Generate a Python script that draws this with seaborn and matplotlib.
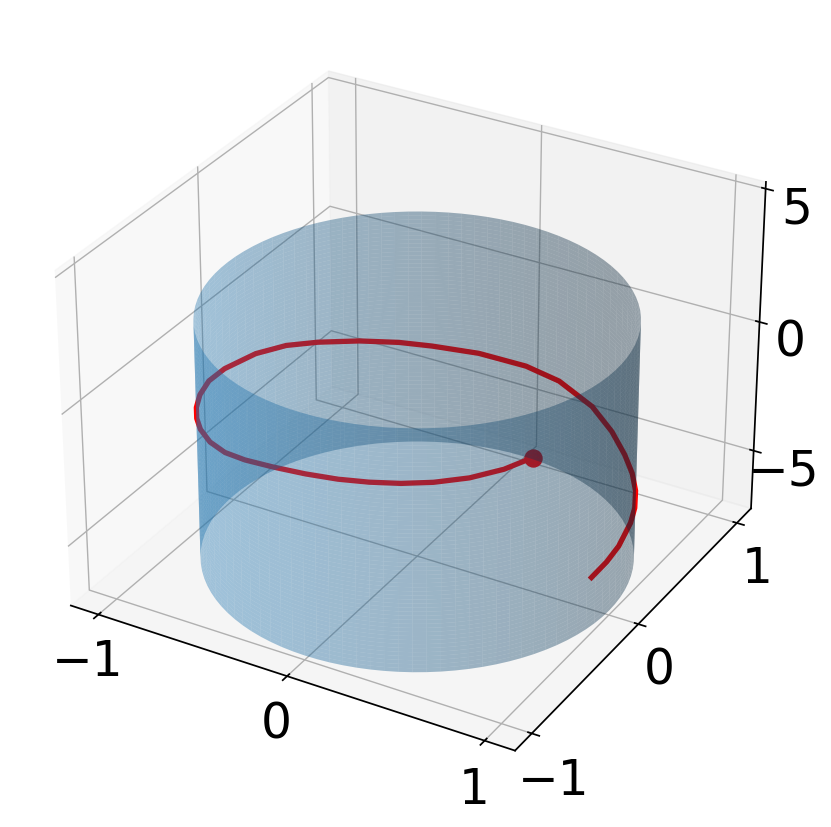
import numpy as np
import matplotlib
matplotlib.use("Agg")
import matplotlib.pyplot as plt
import seaborn as sns

# Curve: angle on the cylinder (degrees) and height
curve_theta = [-30, -38, -47, -56, -64, -72, -80, -89, -99, -109, -118, -127, -136, -143, -150, -158,
               -167, -177, -191, -202, -212, -224, -235, -244, -257, -271, -282, -295, -305, -314,
               -322, -330, -338, -345, -355, -362, -369]
curve_z = [0.32, 0.16, 0.05, -0.01, -0.05, -0.09, -0.15, -0.24, -0.41, -0.68, -0.95, -1.16, -1.32, -1.42, -1.52, -1.62,
           -1.73, -1.93, -2.18, -2.40, -2.66, -2.93, -3.13, -3.28, -3.40, -3.50, -3.62, -3.91, -4.25, -4.53,
           -4.66, -4.73, -4.78, -4.83, -4.98, -5.10, -5.24]
cyl_z_limits = [-7.13, 1.96]
x_ticks = [-1, 0, 1]
y_ticks = [-1, 0, 1]
z_ticks = [-5, 0, 5]

sns.set_context("notebook")
blue = sns.color_palette("tab10")[0]

fig = plt.figure(figsize=(8.31, 8.28), dpi=100)
ax = fig.add_axes([0.0117, 0.032, 0.955, 0.955], projection="3d")
ax.computed_zorder = False

th = np.radians(np.array(curve_theta, dtype=float))
ax.plot(np.cos(th), np.sin(th), curve_z, color="red", lw=3.8, zorder=1)
ax.scatter([np.cos(th[0])], [np.sin(th[0])], [curve_z[0]], color="red", s=150, depthshade=False, zorder=1)

tt, zz = np.meshgrid(np.radians(np.arange(0, 361, 3.6)), np.linspace(cyl_z_limits[0], cyl_z_limits[1], 60))
ax.plot_surface(np.cos(tt), np.sin(tt), zz, color=blue, alpha=0.4, rstride=1, cstride=1, zorder=2)

ax.set_xlim(-1.15, 1.15)
ax.set_ylim(-1.15, 1.15)
ax.set_zlim(-7.3, 5.25)
ax.set_xticks(x_ticks)
ax.set_yticks(y_ticks)
ax.set_zticks(z_ticks)
ax.tick_params(labelsize=35, pad=4)
ax.tick_params(axis="y", pad=6)
ax.tick_params(axis="z", pad=5.6)
fig.savefig("out.png", dpi=100)
